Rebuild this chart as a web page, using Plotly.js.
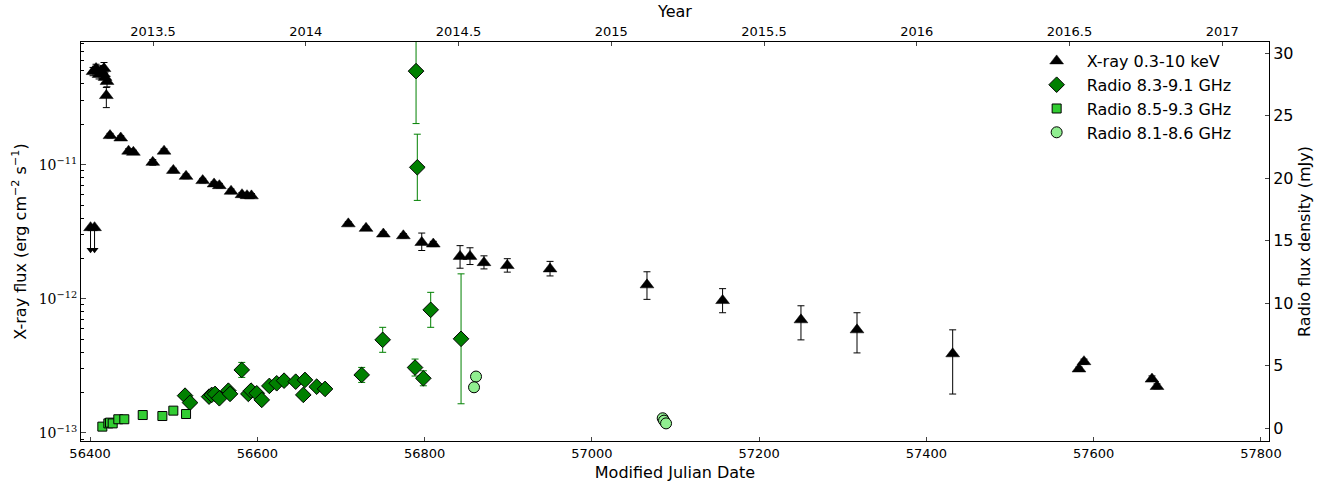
<!DOCTYPE html>
<html>
<head>
<meta charset="utf-8">
<script src="https://cdn.plot.ly/plotly-3.0.1.min.js"></script>
<style>html,body{margin:0;padding:0;background:#fff}#chart{width:1333px;height:486px}</style>
</head>
<body>
<div id="chart"></div>
<script>
// X-ray 0.3-10 keV (erg cm^-2 s^-1)
const xrayMJD = [56403.6,56407.2,56410.8,56413.2,56415.5,56416.7,56418.0,56420.3,56419.5,56423.9,56436.7,56446.1,56451.8,56475.0,56488.5,56499.6,56514.8,56534.7,56548.3,56554.6,56568.6,56581.7,56587.7,56593.0,56708.8,56730.0,56750.7,56774.6,56796.6,56810.4,56842.4,56854.3,56871.0,56898.9,56950.0,57065.9,57156.3,57250.0,57317.0,57431.4,57582.4,57588.4,57669.7,57675.7];
const xrayFlux = [4.94e-11,5.2e-11,4.7e-11,5.0e-11,4.78e-11,5.2e-11,4.47e-11,4.17e-11,3.27e-11,1.645e-11,1.58e-11,1.26e-11,1.236e-11,1.04e-11,1.26e-11,9.06e-12,8.18e-12,7.6e-12,7.18e-12,6.97e-12,6.33e-12,5.97e-12,5.87e-12,5.85e-12,3.62e-12,3.35e-12,3.04e-12,2.95e-12,2.63e-12,2.56e-12,2.07e-12,2.07e-12,1.86e-12,1.77e-12,1.67e-12,1.27e-12,9.7e-13,6.97e-13,5.87e-13,3.89e-13,3.0e-13,3.4e-13,2.52e-13,2.22e-13];
const xrayLo = [4.6e-11,4.8e-11,4.35e-11,4.6e-11,4.4e-11,4.7e-11,4.1e-11,3.8e-11,2.66e-11,1.58e-11,1.52e-11,1.21e-11,1.19e-11,0.99e-11,1.21e-11,8.7e-12,7.85e-12,7.3e-12,6.9e-12,6.7e-12,6.08e-12,5.73e-12,5.63e-12,5.62e-12,3.5e-12,3.23e-12,2.93e-12,2.84e-12,2.29e-12,2.45e-12,1.69e-12,1.80e-12,1.67e-12,1.58e-12,1.48e-12,0.99e-12,7.87e-13,4.94e-13,3.95e-13,1.95e-13,2.9e-13,3.25e-13,2.42e-13,2.13e-13];
const xrayHi = [5.3e-11,5.6e-11,5.05e-11,5.45e-11,5.2e-11,5.77e-11,4.9e-11,4.55e-11,3.76e-11,1.71e-11,1.64e-11,1.31e-11,1.28e-11,1.09e-11,1.31e-11,9.4e-12,8.5e-12,7.9e-12,7.45e-12,7.25e-12,6.58e-12,6.2e-12,6.1e-12,6.08e-12,3.75e-12,3.47e-12,3.15e-12,3.06e-12,3.09e-12,2.68e-12,2.49e-12,2.40e-12,2.09e-12,1.99e-12,1.90e-12,1.59e-12,1.19e-12,8.87e-13,7.87e-13,5.87e-13,3.1e-13,3.55e-13,2.66e-13,2.32e-13];
// X-ray upper limits
const ulMJD = [56400.6,56405.4];
const ulFlux = [3.39e-12,3.39e-12];
const ulTip = [2.32e-12,2.32e-12];

// Radio 8.3-9.1 GHz (mJy)
const r1MJD = [56513.6,56519.6,56542.3,56545.5,56549.5,56554.6,56565.4,56567.4,56581.4,56589.3,56592.5,56599.3,56605.3,56614.4,56623.2,56632.0,56645.9,56655.0,56657.0,56671.0,56681.0,56724.8,56749.9,56789.8,56791.3,56788.6,56798.5,56807.3,56843.6];
const r1Flux = [2.59,2.03,2.51,2.65,2.73,2.38,2.99,2.73,4.65,2.73,2.99,2.78,2.25,3.37,3.58,3.79,3.71,2.65,3.85,3.31,3.13,4.25,7.06,28.57,20.87,4.84,3.98,9.46,7.14];
const r1Err = [0.25,0.25,0.2,0.2,0.25,0.2,0.25,0.2,0.6,0.2,0.2,0.2,0.2,0.3,0.3,0.35,0.3,0.25,0.35,0.3,0.3,0.6,1.0,4.2,2.65,0.68,0.6,1.4,5.2];
// Radio 8.5-9.3 GHz (mJy)
const r2MJD = [56414.7,56421.9,56423.9,56427.1,56433.8,56441.0,56463.0,56486.5,56499.6,56514.8];
const r2Flux = [0.11,0.37,0.43,0.37,0.70,0.70,1.04,0.96,1.39,1.12];
// Radio 8.1-8.6 GHz (mJy)
const r3MJD = [56861.5,56859.1,57084.7,57086.3,57088.7];
const r3Flux = [4.12,3.26,0.78,0.59,0.37];

// axes ticks
const mjdRange = [56389.2, 57809.6];
const mjdTicks = [56400,56600,56800,57000,57200,57400,57600,57800];
const yearTicks = [2013.5,2014,2014.5,2015,2015.5,2016,2016.5,2017];
const yearLabels = ['2013.5','2014','2014.5','2015','2015.5','2016','2016.5','2017'];
const logTicks = [1e-13,1e-12,1e-11];
const logLabels = ['10<sup>−13</sup>','10<sup>−12</sup>','10<sup>−11</sup>'];
const radioTicks = [0,5,10,15,20,25,30];

const yearToMJD = y => 51544.5 + (y - 2000) * 365.25;
const minorVals = [];
[-14,-13,-12,-11,-10].forEach(e => { for (let k = 2; k <= 9; k++) minorVals.push(k * Math.pow(10, e)); });

const sans = 'DejaVu Sans, sans-serif';
const traces = [
  {
    x: xrayMJD, y: xrayFlux, type: 'scatter', mode: 'markers', name: 'X-ray 0.3-10 keV',
    xaxis: 'x', yaxis: 'y',
    marker: {symbol: 'triangle-up', size: 12, color: 'black', line: {color: 'black', width: 0.5}},
    error_y: {type: 'data', symmetric: false,
      array: xrayHi.map((h, i) => h - xrayFlux[i]),
      arrayminus: xrayLo.map((l, i) => xrayFlux[i] - l),
      color: 'black', thickness: 1, width: 3.5}
  },
  {
    x: ulMJD, y: ulFlux, type: 'scatter', mode: 'markers', showlegend: false,
    xaxis: 'x', yaxis: 'y',
    marker: {symbol: 'triangle-up', size: 12, color: 'black', line: {color: 'black', width: 0.5}},
    error_y: {type: 'data', symmetric: false, array: [0, 0],
      arrayminus: ulTip.map((t, i) => ulFlux[i] - t), color: 'black', thickness: 1, width: 0}
  },
  {
    x: ulMJD, y: ulTip, type: 'scatter', mode: 'markers', showlegend: false,
    xaxis: 'x', yaxis: 'y',
    marker: {symbol: 'triangle-down', size: 7, color: 'black'}
  },
  {
    x: r1MJD, y: r1Flux, type: 'scatter', mode: 'markers', name: 'Radio 8.3-9.1 GHz',
    xaxis: 'x', yaxis: 'y2',
    marker: {symbol: 'diamond', size: 12, color: '#008000', line: {color: 'black', width: 1}},
    error_y: {type: 'data', array: r1Err, color: '#008000', thickness: 1, width: 3.5}
  },
  {
    x: r2MJD, y: r2Flux, type: 'scatter', mode: 'markers', name: 'Radio 8.5-9.3 GHz',
    xaxis: 'x', yaxis: 'y2',
    marker: {symbol: 'square', size: 9, color: '#32CD32', line: {color: 'black', width: 1}}
  },
  {
    x: r3MJD, y: r3Flux, type: 'scatter', mode: 'markers', name: 'Radio 8.1-8.6 GHz',
    xaxis: 'x', yaxis: 'y2',
    marker: {symbol: 'circle', size: 11, color: '#90EE90', line: {color: 'black', width: 1}}
  },
  {
    // invisible helper so the top (Year) axis is drawn
    x: yearTicks.map(yearToMJD), y: yearTicks.map(() => 1e-12), type: 'scatter', mode: 'markers',
    xaxis: 'x2', yaxis: 'y', showlegend: false, hoverinfo: 'skip',
    marker: {size: 1, opacity: 0}
  }
];

const layout = {
  width: 1333, height: 486,
  margin: {l: 81, r: 64, t: 42, b: 45},
  paper_bgcolor: 'white', plot_bgcolor: 'white',
  font: {family: sans, size: 13, color: 'black'},
  showlegend: true,
  legend: {x: 0.796, y: 0.995, xanchor: 'left', yanchor: 'top', bgcolor: 'rgba(0,0,0,0)',
    font: {family: sans, size: 16}, itemwidth: 50, tracegroupgap: 0},
  xaxis: {
    range: mjdRange, tickmode: 'array', tickvals: mjdTicks, tickformat: 'd',
    ticktext: mjdTicks.map(String),
    ticks: 'inside', ticklen: 4,
    showline: true, linecolor: 'black', linewidth: 1, showgrid: false, zeroline: false,
    tickfont: {family: sans, size: 13},
    title: {text: 'Modified Julian Date', font: {family: sans, size: 16}, standoff: 7},
    automargin: false
  },
  xaxis2: {
    overlaying: 'x', side: 'top', anchor: 'y', range: mjdRange,
    tickmode: 'array', tickvals: yearTicks.map(yearToMJD), ticktext: yearLabels,
    ticks: 'inside', ticklen: 4, showline: true, linecolor: 'black', linewidth: 1,
    showgrid: false, zeroline: false, tickfont: {family: sans, size: 13},
    title: {text: 'Year', font: {family: sans, size: 16}, standoff: 2},
    automargin: false
  },
  yaxis: {
    type: 'log', range: [-13.06, -10.086], tickmode: 'array', tickvals: logTicks, ticktext: logLabels,
    ticks: 'inside', ticklen: 5, showline: true, linecolor: 'black', linewidth: 1,
    showgrid: false, zeroline: false,
    minor: {tickmode: 'array', tickvals: minorVals, ticks: 'inside', ticklen: 3, tickcolor: 'black', showgrid: false},
    tickfont: {family: 'DejaVu Serif, serif', size: 14},
    title: {text: 'X-ray flux (erg cm<sup>−2</sup> s<sup>−1</sup>)', font: {family: sans, size: 16}, standoff: 8},
    automargin: false
  },
  yaxis2: {
    overlaying: 'y', side: 'right', anchor: 'x', range: [-1.04, 30.9], tickmode: 'array', tickvals: radioTicks,
    ticks: 'inside', ticklen: 4, showline: true, linecolor: 'black', linewidth: 1,
    showgrid: false, zeroline: false, tickfont: {family: sans, size: 16},
    title: {text: 'Radio flux density (mJy)', font: {family: sans, size: 16}, standoff: 6},
    automargin: false
  }
};

Plotly.newPlot('chart', traces, layout, {displayModeBar: false, staticPlot: true});
</script>
</body>
</html>
